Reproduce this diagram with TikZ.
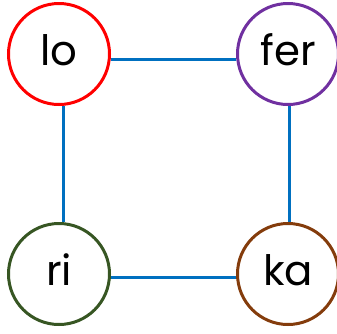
\documentclass[tikz,border=0pt]{standalone}
\usepackage{fontspec}
\setmainfont{Poppins}
\definecolor{cred}{RGB}{255,0,0}
\definecolor{cpurple}{RGB}{112,48,160}
\definecolor{cgreen}{RGB}{55,86,35}
\definecolor{cbrown}{RGB}{132,60,12}
\definecolor{cblue}{RGB}{0,112,192}
\tikzset{
  syl/.style={circle, draw, line width=3bp, fill=white, minimum size=101bp, inner sep=0pt,
    font=\fontsize{42}{42}\selectfont, text height=22bp, text depth=0bp},
  link/.style={draw=cblue, line width=3bp}
}
\begin{document}
\begin{tikzpicture}[x=1bp, y=-1bp]
\useasboundingbox (0,0) rectangle (337,334);
\node[syl, draw=cred] (lo) at (59,54) {lo};
\node[syl, draw=cpurple] (fer) at (288,54) {fer};
\node[syl, draw=cgreen] (ri) at (59,274) {ri};
\node[syl, draw=cbrown] (ka) at (288,274) {ka};
\draw[link] ([yshift=-5bp]lo.east) -- ([yshift=-5bp]fer.west);
\draw[link] ([xshift=4bp]lo.south) -- ([xshift=4bp]ri.north);
\draw[link] ([xshift=1bp]fer.south) -- ([xshift=1bp]ka.north);
\draw[link] ([yshift=-3bp]ri.east) -- ([yshift=-3bp]ka.west);
\end{tikzpicture}
\end{document}
